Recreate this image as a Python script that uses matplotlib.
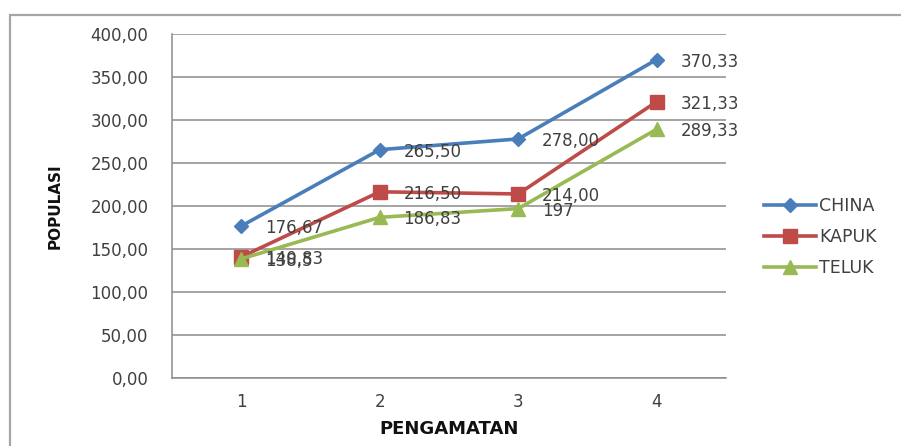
import matplotlib
matplotlib.use("Agg")
import matplotlib.pyplot as plt
from matplotlib.patches import Rectangle
from matplotlib import font_manager

categories = ["1", "2", "3", "4"]
china = [176.67, 265.50, 278.00, 370.33]
kapuk = [140.83, 216.50, 214.00, 321.33]
teluk = [138.5, 186.83, 197, 289.33]
china_labels = ["176,67", "265,50", "278,00", "370,33"]
kapuk_labels = ["140,83", "216,50", "214,00", "321,33"]
teluk_labels = ["138,5", "186,83", "197", "289,33"]
yticks = [0, 50, 100, 150, 200, 250, 300, 350, 400]
ytick_labels = ["0,00", "50,00", "100,00", "150,00", "200,00", "250,00", "300,00", "350,00", "400,00"]

plt.rcParams['font.family'] = ['DejaVu Sans']
names = {f.name for f in font_manager.fontManager.ttflist}
narrow = 'Liberation Sans Narrow' if 'Liberation Sans Narrow' in names else 'DejaVu Sans Condensed' if 'DejaVu Sans Condensed' in names else 'DejaVu Sans'

fig = plt.figure(figsize=(9.01, 4.46), dpi=100)
ax = fig.add_axes([172/901, 68/446, (726-172)/901, (378-34)/446])

x = list(range(len(categories)))
series = [
    ("CHINA", china, china_labels, "#4A7EBB", "D", 7),
    ("KAPUK", kapuk, kapuk_labels, "#BE4B48", "s", 9.5),
    ("TELUK", teluk, teluk_labels, "#98B954", "^", 10),
]
for name, vals, labs, col, mk, ms in series:
    ax.plot(x, vals, color=col, lw=2.6, marker=mk, markersize=ms,
            markerfacecolor=col, markeredgecolor=col, label=name, zorder=3)
    for xi, v, lab in zip(x, vals, labs):
        ax.annotate(lab, (xi, v), xytext=(17, -1.5), textcoords="offset points",
                    ha="left", va="center", fontsize=12, color="#404040", zorder=4)

ax.set_xlim(-0.5, 3.5)
ax.set_ylim(0, 400)
ax.set_yticks(yticks)
ax.set_yticklabels(ytick_labels)
ax.set_xticks(x)
ax.set_xticklabels(categories)
ax.tick_params(axis="both", length=0, labelsize=12, labelcolor="#404040")
ax.tick_params(axis="y", pad=17)
ax.tick_params(axis="x", pad=11)
ax.grid(axis="y", color="#8c8c8c", lw=1.1)
ax.set_axisbelow(True)
for s in ["top", "right"]:
    ax.spines[s].set_visible(False)
for s in ["left", "bottom"]:
    ax.spines[s].set_color("#8c8c8c")
    ax.spines[s].set_linewidth(1.1)

ax.set_ylabel("POPULASI", fontsize=11, fontweight="bold", labelpad=20, color="#111111",
              family=[narrow, 'DejaVu Sans'])
ax.set_xlabel("PENGAMATAN", fontsize=13, fontweight="bold", labelpad=6, color="#111111")

leg = ax.legend(loc="center left", bbox_to_anchor=(1.041, 0.41), frameon=False,
                fontsize=12.5, handlelength=3.0, handletextpad=0.15, labelspacing=0.75,
                labelcolor="#404040")

fig.patches.append(Rectangle((10/901, -0.05), 1.0, (446-15)/446 + 0.05,
                             transform=fig.transFigure, fill=False,
                             edgecolor="#a6a6a6", lw=1.6, zorder=0))

fig.savefig("out.png", dpi=100)
